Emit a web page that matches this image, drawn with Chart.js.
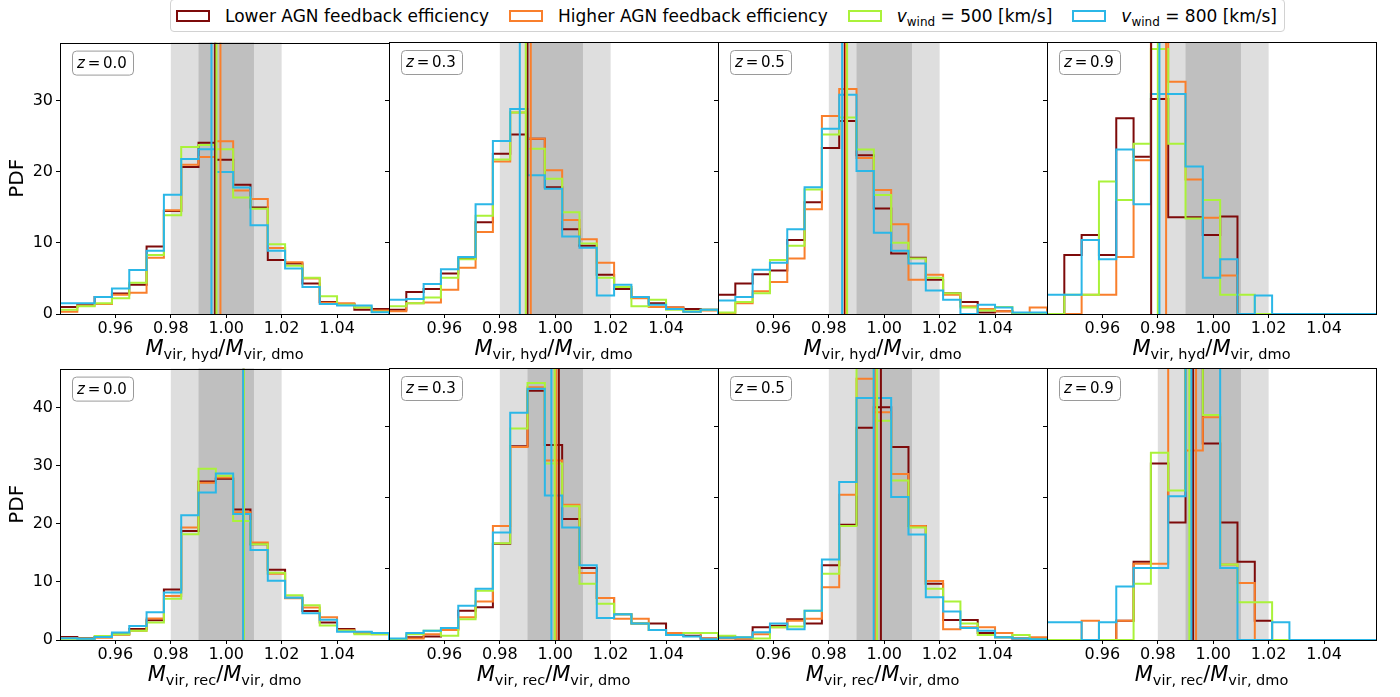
<!DOCTYPE html>
<html>
<head>
<meta charset="utf-8">
<script src="https://cdn.jsdelivr.net/npm/chart.js@4.4.1/dist/chart.umd.min.js"></script>
<style>
  body { margin: 0; background: #fff; }
  #fig { position: relative; width: 1400px; height: 697px; overflow: hidden; font-family: 'DejaVu Sans', sans-serif; }
  #fig canvas { position: absolute; }
  .legend { position: absolute; left: 170px; top: -1px; height: 33px; box-sizing: border-box; border: 1px solid #d2d2d2; border-radius: 4px;
            display: inline-flex; align-items: center; font-size: 17px; color: #000; background: #fff; padding-right: 7px; white-space: nowrap; }
  .legend .patch { width: 34px; height: 12px; box-sizing: border-box; border: 2px solid; margin-left: 20px; margin-right: 15px; }
  .legend .patch:first-child { margin-left: 5px; }
  .legend i { font-style: italic; }
  .legend sub { font-size: 12px; vertical-align: -4px; line-height: 0; }
</style>
</head>
<body>
<div id="fig">
  <div class="legend" id="legend"></div>
</div>
<script>
// histogram bins shared by every panel
const binEdges = [0.94, 0.94625, 0.9525, 0.95875, 0.965, 0.97125, 0.9775, 0.98375, 0.99, 0.99625,
                  1.0025, 1.00875, 1.015, 1.02125, 1.0275, 1.03375, 1.04, 1.04625, 1.0525, 1.05875];
const xTicks = [0.96, 0.98, 1.00, 1.02, 1.04];
const yTicks = [0, 10, 20, 30];
const yTicksRec00 = [0, 10, 20, 30, 40];
const outerBand = [0.98, 1.02];
const innerBand = [0.99, 1.01];
const redshifts = ['0.0', '0.3', '0.5', '0.9'];

const seriesNames = ['Lower AGN feedback efficiency', 'Higher AGN feedback efficiency', 'v_wind = 500 [km/s]', 'v_wind = 800 [km/s]'];
const seriesColors = ['#7d0a0a', '#f97f2c', '#aaf23a', '#2bb7e7'];

// M_vir,hyd / M_vir,dmo
const hydLow00  = [1.0, 1.4, 2.4, 2.9, 4.1, 9.5, 14.5, 20.7, 24.1, 21.7, 18.2, 15.0, 7.6, 7.1, 4.3, 1.7, 1.4, 0.6, 0.7];
const hydHigh00 = [0.3, 1.2, 1.4, 2.7, 3.0, 7.9, 14.6, 21.0, 22.1, 24.3, 17.4, 16.2, 9.3, 7.3, 5.0, 1.6, 1.5, 0.9, 0.5];
const hydV500_00 = [0.6, 1.1, 1.5, 2.2, 4.4, 8.3, 13.9, 23.5, 23.8, 23.2, 16.4, 14.8, 9.8, 6.8, 5.1, 2.5, 1.3, 0.9, 0.3];
const hydV800_00 = [1.5, 1.5, 2.4, 3.6, 6.2, 8.9, 16.8, 21.8, 23.2, 20.0, 17.8, 12.5, 8.9, 6.4, 3.8, 1.4, 1.2, 1.2, 0.25];

const hydLow03  = [0.6, 3.1, 3.5, 5.7, 7.8, 12.9, 22.5, 25.2, 24.6, 17.8, 11.9, 9.6, 5.5, 3.5, 2.3, 1.5, 0.9, 0.7, 0.6];
const hydHigh03 = [0.4, 1.5, 1.6, 3.4, 6.5, 11.5, 21.4, 28.3, 24.6, 20.2, 13.2, 10.5, 7.2, 3.8, 2.2, 1.0, 0.9, 0.3, 0.5];
const hydV500_03 = [1.1, 1.5, 2.3, 5.1, 7.7, 13.8, 21.7, 28.3, 23.2, 19.0, 14.3, 9.9, 5.1, 3.8, 1.1, 2.0, 0.6, 0.4, 0.6];
const hydV800_03 = [2.0, 2.1, 4.2, 6.3, 8.0, 15.4, 24.3, 28.8, 19.5, 17.6, 10.9, 9.3, 2.6, 4.1, 2.4, 1.3, 0.7, 0.3, 0.6];

const hydLow05  = [2.7, 4.3, 5.6, 6.1, 10.4, 15.7, 23.3, 27.1, 22.3, 14.8, 8.5, 7.9, 4.8, 2.9, 1.7, 0.2, 0.4, 0.1, 0.1];
const hydHigh05 = [0.1, 1.5, 3.2, 4.5, 7.8, 14.7, 27.8, 31.6, 21.9, 17.4, 12.6, 4.8, 5.5, 2.7, 1.1, 0.7, 0.4, 0.1, 0.9];
const hydV500_05 = [0.2, 1.7, 2.9, 7.6, 9.6, 17.5, 25.2, 27.6, 23.1, 16.7, 10.0, 7.8, 5.1, 2.9, 0.9, 0.5, 1.0, 0.1, 0.1];
const hydV800_05 = [1.9, 2.4, 6.2, 7.2, 11.9, 17.8, 26.0, 30.8, 20.1, 11.4, 8.9, 7.1, 3.3, 2.0, 0.0, 1.3, 0.9, 0.2, 0.2];

const hydLow09  = [0, 8.3, 11.1, 8.3, 27.5, 22.1, 30.2, 13.6, 13.6, 11.1, 13.7, 0, 0, 0, 0, 0, 0, 0, 0];
const hydHigh09 = [0, 0, 2.7, 2.7, 8.0, 21.6, 54.6, 32.6, 18.9, 13.5, 5.4, 0, 0, 0, 0, 0, 0, 0, 0];
const hydV500_09 = [0, 2.7, 2.7, 18.6, 16.0, 23.9, 37.2, 23.9, 13.4, 16.0, 2.7, 2.7, 0, 0, 0, 0, 0, 0, 0];
const hydV800_09 = [2.7, 2.7, 10.4, 7.7, 23.1, 15.4, 30.9, 30.9, 20.7, 5.1, 7.7, 0, 2.6, 0, 0, 0, 0, 0, 0];

// M_vir,rec / M_vir,dmo
const recLow00  = [0.5, 0.3, 0.5, 1.0, 1.9, 3.4, 8.7, 18.8, 27.3, 27.8, 22.5, 16.5, 12.1, 7.3, 5.0, 3.0, 1.9, 1.3, 1.1];
const recHigh00 = [0.3, 0.2, 0.4, 0.9, 1.6, 3.7, 7.6, 19.4, 27.1, 28.0, 22.0, 16.8, 11.4, 7.2, 5.6, 3.9, 1.7, 1.2, 1.0];
const recV500_00 = [0.2, 0.2, 0.7, 1.0, 1.6, 3.0, 7.1, 18.2, 29.5, 28.3, 20.5, 16.5, 11.6, 7.7, 6.0, 2.5, 1.6, 1.0, 1.0];
const recV800_00 = [0.3, 0.2, 0.5, 1.3, 2.4, 4.8, 8.2, 21.5, 25.4, 28.7, 21.7, 15.5, 10.2, 7.3, 4.6, 3.5, 1.4, 1.4, 1.2];

const recLow03  = [0.15, 0.4, 0.5, 1.5, 4.1, 4.6, 13.5, 27.2, 35.0, 27.4, 17.0, 10.1, 5.9, 3.6, 2.3, 2.3, 0.7, 0.6, 0.2];
const recHigh03 = [0.15, 0.2, 0.8, 1.4, 3.2, 5.4, 16.0, 27.1, 35.5, 25.2, 19.0, 9.4, 5.9, 3.0, 3.0, 1.4, 1.0, 1.0, 0.2];
const recV500_03 = [0.15, 0.8, 1.3, 0.6, 2.9, 6.9, 13.6, 29.7, 36.1, 24.8, 18.8, 7.9, 5.1, 3.6, 2.3, 1.4, 0.7, 1.0, 1.0];
const recV800_03 = [0.2, 1.0, 1.3, 1.7, 4.8, 7.2, 15.1, 31.9, 35.3, 20.3, 15.8, 10.5, 3.1, 3.6, 2.3, 1.4, 0.7, 0.5, 0.1];

const recLow05  = [0.4, 0.2, 1.8, 2.0, 2.9, 2.3, 10.5, 16.2, 29.8, 32.7, 27.1, 16.0, 7.9, 2.8, 2.8, 1.0, 0.4, 0.2, 0.1];
const recHigh05 = [0.2, 0.2, 0.8, 1.8, 2.7, 3.0, 7.4, 20.4, 36.7, 32.0, 23.3, 16.0, 8.3, 1.5, 1.8, 1.8, 1.0, 0.2, 0.4];
const recV500_05 = [0.6, 0.4, 0.2, 1.8, 1.9, 4.1, 9.3, 16.0, 40.0, 30.8, 22.4, 15.8, 7.2, 5.4, 2.3, 0.7, 0.4, 0.7, 0.1];
const recV800_05 = [0.3, 0.4, 1.1, 2.3, 1.5, 4.1, 11.3, 22.2, 34.0, 34.0, 20.1, 14.8, 6.0, 4.0, 1.7, 1.3, 0.4, 0.2, 0.1];

const recLow09  = [0, 0, 0, 0, 2.7, 11.0, 24.8, 16.5, 47.0, 27.6, 16.5, 11.0, 2.7, 0, 0, 0, 0, 0, 0];
const recHigh09 = [0, 0, 2.7, 0, 2.7, 10.7, 10.7, 56.7, 26.6, 31.3, 10.6, 8.0, 0, 0, 0, 0, 0, 0, 0];
const recV500_09 = [0, 0, 0, 0, 0, 7.9, 26.3, 21.0, 52.0, 31.6, 10.6, 5.3, 5.3, 0, 0, 0, 0, 0, 0];
const recV800_09 = [2.5, 2.5, 0, 2.5, 7.5, 10.1, 10.1, 20.2, 46.0, 46.0, 10.1, 0, 0, 2.5, 0, 0, 0, 0, 0];

// medians, in series order (low, high, v500, v800)
const hydMed00 = [0.99597, 0.99791, 0.99647, 0.99466];
const hydMed03 = [0.98998, 0.99117, 0.98937, 0.98721];
const hydMed05 = [0.98577, 0.98620, 0.98660, 0.98480];
const hydMed09 = [0.97759, 0.98299, 0.98000, 0.98058];
const recMed00 = [1.0063, 1.0062, 1.0064, 1.0061];
const recMed03 = [1.0013, 1.0004, 0.9998, 0.9986];
const recMed05 = [0.9988, 0.9966, 0.9974, 0.9962];
const recMed09 = [0.99272, 0.99380, 0.99139, 0.99211];

const yMaxShared = 38.2;
const yMaxRec00 = 46.76;

const panels = [
  { row: 0, col: 0, hist: [hydLow00, hydHigh00, hydV500_00, hydV800_00], med: hydMed00, yMax: yMaxShared, yTicks: yTicks },
  { row: 0, col: 1, hist: [hydLow03, hydHigh03, hydV500_03, hydV800_03], med: hydMed03, yMax: yMaxShared, yTicks: yTicks },
  { row: 0, col: 2, hist: [hydLow05, hydHigh05, hydV500_05, hydV800_05], med: hydMed05, yMax: yMaxShared, yTicks: yTicks },
  { row: 0, col: 3, hist: [hydLow09, hydHigh09, hydV500_09, hydV800_09], med: hydMed09, yMax: yMaxShared, yTicks: yTicks },
  { row: 1, col: 0, hist: [recLow00, recHigh00, recV500_00, recV800_00], med: recMed00, yMax: yMaxRec00, yTicks: yTicksRec00 },
  { row: 1, col: 1, hist: [recLow03, recHigh03, recV500_03, recV800_03], med: recMed03, yMax: yMaxShared, yTicks: yTicks },
  { row: 1, col: 2, hist: [recLow05, recHigh05, recV500_05, recV800_05], med: recMed05, yMax: yMaxShared, yTicks: yTicks },
  { row: 1, col: 3, hist: [recLow09, recHigh09, recV500_09, recV800_09], med: recMed09, yMax: yMaxShared, yTicks: yTicks }
];

const colLeft = [60, 389, 718, 1047];
const rowTop = [42, 368];
const plotW = 329, plotH = 272;
const padTop = 12;
const FONT = 'DejaVu Sans';

Chart.defaults.font.family = FONT;

// legend
const legend = document.getElementById('legend');
seriesNames.forEach((name, i) => {
  const p = document.createElement('span');
  p.className = 'patch';
  p.style.borderColor = seriesColors[i];
  legend.appendChild(p);
  const t = document.createElement('span');
  if (name.startsWith('v_wind')) {
    t.innerHTML = '<i>v</i><sub>wind</sub> = ' + name.split('= ')[1];
  } else {
    t.textContent = name;
  }
  legend.appendChild(t);
});

// outline of a step histogram
function stepPoints(heights) {
  const pts = [{ x: binEdges[0], y: 0 }];
  heights.forEach((h, i) => pts.push({ x: binEdges[i], y: h }));
  pts.push({ x: binEdges[binEdges.length - 1], y: 0 });
  return pts;
}

const bandsPlugin = {
  id: 'bands',
  beforeDatasetsDraw(chart) {
    const { ctx, chartArea: a, scales: { x } } = chart;
    ctx.save();
    ctx.fillStyle = '#dedede';
    let x0 = x.getPixelForValue(outerBand[0]), x1 = x.getPixelForValue(outerBand[1]);
    ctx.fillRect(x0, a.top, x1 - x0, a.bottom - a.top);
    ctx.fillStyle = '#bfbfbf';
    x0 = x.getPixelForValue(innerBand[0]); x1 = x.getPixelForValue(innerBand[1]);
    ctx.fillRect(x0, a.top, x1 - x0, a.bottom - a.top);
    ctx.restore();
  }
};

const framePlugin = {
  id: 'frame',
  afterDatasetsDraw(chart, args, opts) {
    const { ctx, chartArea: a } = chart;
    ctx.save();
    ctx.strokeStyle = '#000';
    ctx.lineWidth = 1;
    ctx.strokeRect(Math.round(a.left) + 0.5, Math.round(a.top) + 0.5, Math.round(a.right - a.left), Math.round(a.bottom - a.top));

    // redshift tag
    const bx = a.left + 12.5, by = a.top + 8.5;
    ctx.beginPath();
    ctx.roundRect(bx, by, 61, 24, 4);
    ctx.fillStyle = '#fff';
    ctx.fill();
    ctx.strokeStyle = '#9a9a9a';
    ctx.stroke();
    ctx.fillStyle = '#000';
    ctx.textBaseline = 'alphabetic';
    let tx = bx + 4.5;
    const ty = a.top + 25.3;
    ctx.font = 'italic 15px ' + FONT;
    ctx.fillText('z', tx, ty);
    tx += ctx.measureText('z').width + 2.8;
    ctx.font = '15px ' + FONT;
    ctx.fillText('=', tx, ty);
    tx += ctx.measureText('=').width + 2.8;
    ctx.fillText(opts.z, tx, ty);
    ctx.restore();
  },
  afterDraw(chart, args, opts) {
    // axis label M_vir,xxx / M_vir,dmo
    const { ctx, chartArea: a } = chart;
    const parts = [
      ['italic 21px ' + FONT, 'M', 0],
      ['14.5px ' + FONT, 'vir, ' + opts.kind, 4],
      ['21px ' + FONT, '/', 0],
      ['italic 21px ' + FONT, 'M', 0],
      ['14.5px ' + FONT, 'vir, dmo', 4]
    ];
    ctx.save();
    ctx.fillStyle = '#000';
    let total = 0;
    const widths = parts.map(p => { ctx.font = p[0]; const w = ctx.measureText(p[1]).width; total += w; return w; });
    let x = (a.left + a.right) / 2 - total / 2;
    const y = a.bottom + 41;
    parts.forEach((p, i) => {
      ctx.font = p[0];
      ctx.fillText(p[1], x, y + p[2]);
      x += widths[i];
    });
    ctx.restore();
  }
};

const fig = document.getElementById('fig');

panels.forEach(p => {
  const L = colLeft[p.col], T = rowTop[p.row];
  const cLeft = p.col === 0 ? 0 : L - 6;
  const cTop = T - padTop;
  const cW = L + plotW + 2 - cLeft;
  const cH = padTop + plotH + 56;
  const canvas = document.createElement('canvas');
  canvas.width = cW; canvas.height = cH;
  canvas.style.left = cLeft + 'px';
  canvas.style.top = cTop + 'px';
  canvas.style.width = cW + 'px';
  canvas.style.height = cH + 'px';
  fig.appendChild(canvas);

  const datasets = [];
  p.hist.forEach((h, i) => {
    datasets.push({
      label: seriesNames[i],
      data: stepPoints(h),
      stepped: true,
      borderColor: seriesColors[i],
      borderWidth: 2,
      pointRadius: 0,
      fill: false,
      order: 8 - i
    });
  });
  p.med.forEach((m, i) => {
    datasets.push({
      label: seriesNames[i] + ' median',
      data: [{ x: m, y: 0 }, { x: m, y: p.yMax }],
      borderColor: seriesColors[i],
      borderWidth: 2,
      pointRadius: 0,
      fill: false,
      order: 4 - i
    });
  });

  new Chart(canvas, {
    type: 'line',
    data: { datasets },
    plugins: [bandsPlugin, framePlugin],
    options: {
      responsive: false,
      animation: false,
      devicePixelRatio: 1,
      events: [],
      layout: { padding: { top: padTop, right: 2, left: 0, bottom: 0 } },
      plugins: {
        legend: { display: false },
        tooltip: { enabled: false },
        frame: { z: redshifts[p.col], kind: p.row === 0 ? 'hyd' : 'rec' }
      },
      scales: {
        x: {
          type: 'linear',
          min: binEdges[0],
          max: binEdges[binEdges.length - 1],
          afterBuildTicks: s => { s.ticks = xTicks.map(v => ({ value: v })); },
          afterFit: s => { s.height = 56; },
          border: { display: false },
          grid: { drawOnChartArea: false, drawTicks: true, tickLength: 4, color: '#000' },
          ticks: { color: '#000', font: { size: 16 }, padding: 1, maxRotation: 0, callback: v => v.toFixed(2) }
        },
        y: {
          type: 'linear',
          min: 0,
          max: p.yMax,
          afterBuildTicks: s => { s.ticks = p.yTicks.map(v => ({ value: v })); },
          afterFit: s => { s.width = L - cLeft; },
          border: { display: false },
          grid: { drawOnChartArea: false, drawTicks: true, tickLength: 4, color: '#000' },
          ticks: { display: p.col === 0, color: '#000', font: { size: 16 }, padding: 3, callback: v => String(v) },
          title: { display: p.col === 0, text: 'PDF', color: '#000', font: { size: 20 }, padding: { top: 6, bottom: 0 } }
        }
      }
    }
  });
});
</script>
</body>
</html>
